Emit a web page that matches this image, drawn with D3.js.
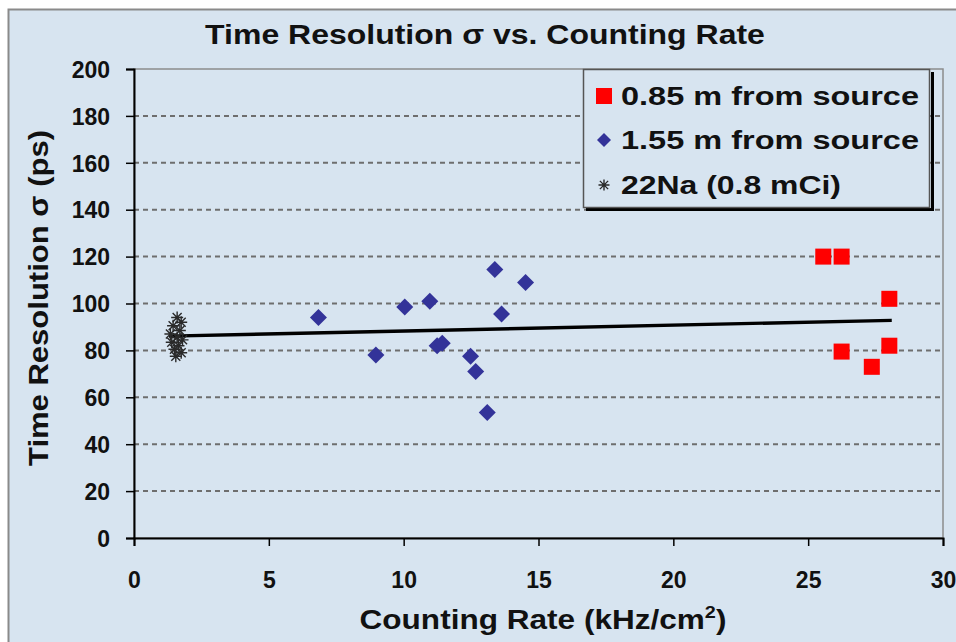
<!DOCTYPE html>
<html>
<head>
<meta charset="utf-8">
<script src="https://cdn.jsdelivr.net/npm/d3@7"></script>
<style>
  html, body { margin: 0; padding: 0; background: #ffffff; }
  svg { display: block; font-family: "Liberation Sans", Arial, sans-serif; font-weight: bold; }
</style>
</head>
<body>
<svg id="chart" width="956" height="642"></svg>
<script>
// Counting rate (kHz/cm^2) vs. time resolution sigma (ps)
const nearSeries = [ // 0.85 m from source
  { x: 25.56, y: 120 }, { x: 26.24, y: 120 }, { x: 28.01, y: 102 },
  { x: 26.24, y: 79.5 }, { x: 28.01, y: 82 }, { x: 27.36, y: 73 }
];
const farSeries = [ // 1.55 m from source
  { x: 6.84, y: 94 }, { x: 8.97, y: 78 }, { x: 10.04, y: 98.5 },
  { x: 10.97, y: 101 }, { x: 11.24, y: 82 }, { x: 11.43, y: 83 },
  { x: 12.48, y: 77.5 }, { x: 12.67, y: 71 }, { x: 13.10, y: 53.5 },
  { x: 13.38, y: 114.5 }, { x: 13.63, y: 95.5 }, { x: 14.52, y: 109 }
];
const sodiumSeries = [ // 22Na (0.8 mCi)
  { x: 1.6, y: 94 }, { x: 1.75, y: 92 }, { x: 1.45, y: 90.5 }, { x: 1.7, y: 88.5 },
  { x: 1.35, y: 87 }, { x: 1.6, y: 85.5 }, { x: 1.8, y: 84.5 }, { x: 1.4, y: 83.5 },
  { x: 1.65, y: 82 }, { x: 1.5, y: 80.5 }, { x: 1.75, y: 79 }, { x: 1.55, y: 77.5 }
];
const trendLine = [ { x: 1.3, y: 86.1 }, { x: 28.1, y: 92.8 } ];
const xTicks = [0, 5, 10, 15, 20, 25, 30];
const yTicks = [0, 20, 40, 60, 80, 100, 120, 140, 160, 180, 200];
const legendLabels = ["0.85 m from source", "1.55 m from source", "22Na (0.8 mCi)"];

const svg = d3.select("#chart");
const bg = "#d7e4f0";
const ink = "#111";
const plot = { left: 134, right: 943, top: 69, bottom: 538 };

const x = d3.scaleLinear().domain([0, 30]).range([plot.left, plot.right]);
const y = d3.scaleLinear().domain([0, 200]).range([plot.bottom, plot.top]);

// squeeze or stretch a text element horizontally to a given width around an anchor x
function fitWidth(sel, width, ax) {
  const w = sel.node().getBBox().width;
  const k = width / w;
  sel.attr("transform", `translate(${ax},0) scale(${k},1) translate(${-ax},0)`);
}

// chart frame
svg.append("rect").attr("x", 8.5).attr("y", 9.5).attr("width", 960).attr("height", 640)
  .attr("fill", bg).attr("stroke", "#8a8a8a").attr("stroke-width", 2);

// plot area
svg.append("rect").attr("x", plot.left).attr("y", plot.top)
  .attr("width", plot.right - plot.left).attr("height", plot.bottom - plot.top)
  .attr("fill", bg).attr("stroke", "#8c8c8c").attr("stroke-width", 1.5);

// dashed gridlines
svg.append("g").selectAll("line").data(yTicks.filter(t => t > 0 && t < 200)).join("line")
  .attr("x1", plot.left).attr("x2", plot.right)
  .attr("y1", d => y(d)).attr("y2", d => y(d))
  .attr("stroke", "#6e6e6e").attr("stroke-width", 2).attr("stroke-dasharray", "5,4");

// axes
const yAxis = d3.axisLeft(y).tickValues(yTicks).tickSize(8).tickPadding(16).tickFormat(d3.format("d"));
const xAxis = d3.axisBottom(x).tickValues(xTicks).tickSize(8).tickPadding(26).tickFormat(d3.format("d"));

const gy = svg.append("g").attr("transform", `translate(${plot.left},0)`).call(yAxis);
const gx = svg.append("g").attr("transform", `translate(0,${plot.bottom})`).call(xAxis);
[gy, gx].forEach(g => {
  g.select(".domain").attr("stroke", "#000").attr("stroke-width", 2);
  g.selectAll(".tick line").attr("stroke", "#000").attr("stroke-width", 1.5);
  g.selectAll(".tick text").attr("fill", ink).attr("font-size", 23)
    .attr("font-family", "'Liberation Sans', Arial, sans-serif").attr("font-weight", "bold");
});
gy.selectAll(".tick text").attr("dy", "0.36em");

// trend line
svg.append("path").datum(trendLine)
  .attr("d", d3.line().x(d => x(d.x)).y(d => y(d.y)))
  .attr("stroke", "#000").attr("stroke-width", 3.4).attr("fill", "none");

// markers
const asterisk = (g, s) => {
  g.append("path")
    .attr("d", `M${-s},0H${s}M0,${-s}V${s}M${-s*0.75},${-s*0.75}L${s*0.75},${s*0.75}M${-s*0.75},${s*0.75}L${s*0.75},${-s*0.75}`)
    .attr("stroke", "#2a2a2a").attr("stroke-width", 1.4).attr("fill", "none");
};
svg.append("g").selectAll("g").data(sodiumSeries).join("g")
  .attr("transform", d => `translate(${x(d.x)},${y(d.y)})`)
  .each(function () { asterisk(d3.select(this), 6); });

svg.append("g").selectAll("path").data(farSeries).join("path")
  .attr("transform", d => `translate(${x(d.x)},${y(d.y)})`)
  .attr("d", "M0,-8.5L8.5,0L0,8.5L-8.5,0Z")
  .attr("fill", "#333399");

svg.append("g").selectAll("rect").data(nearSeries).join("rect")
  .attr("x", d => x(d.x) - 8).attr("y", d => y(d.y) - 8)
  .attr("width", 16).attr("height", 16).attr("fill", "#ff0000");

// legend
const lg = svg.append("g");
lg.append("path").attr("d", "M586,209.5H932.5V72").attr("stroke", "#000").attr("stroke-width", 3).attr("fill", "none");
lg.append("rect").attr("x", 583.5).attr("y", 69.5).attr("width", 346).attr("height", 138)
  .attr("fill", bg).attr("stroke", "#555").attr("stroke-width", 1.5);
const rows = [96, 140, 185];
lg.append("rect").attr("x", 596).attr("y", rows[0] - 8).attr("width", 16).attr("height", 16).attr("fill", "#ff0000");
lg.append("path").attr("transform", `translate(604,${rows[1]})`).attr("d", "M0,-7L7,0L0,7L-7,0Z").attr("fill", "#333399");
asterisk(lg.append("g").attr("transform", `translate(604,${rows[2]})`), 5.5);
lg.selectAll("text").data(legendLabels).join("text")
  .attr("x", 621).attr("y", (d, i) => rows[i] + 9)
  .attr("font-size", 25).attr("fill", ink)
  .attr("textLength", (d, i) => i < 2 ? 298 : 220).attr("lengthAdjust", "spacingAndGlyphs")
  .text(d => d);

// titles
const title = svg.append("text").attr("x", 485).attr("y", 44).attr("text-anchor", "middle")
  .attr("font-size", 27).attr("fill", ink)
  .text("Time Resolution σ vs. Counting Rate");
fitWidth(title, 560, 485);

const xt = svg.append("text").attr("x", 543).attr("y", 629).attr("text-anchor", "middle")
  .attr("font-size", 27).attr("fill", ink);
xt.append("tspan").text("Counting Rate (kHz/cm");
xt.append("tspan").attr("font-size", 17).attr("dy", -11).text("2");
xt.append("tspan").attr("dy", 11).text(")");
fitWidth(xt, 367, 543);

svg.append("text").attr("transform", "translate(48,298) rotate(-90)").attr("text-anchor", "middle")
  .attr("font-size", 28).attr("fill", ink)
  .attr("textLength", 336).attr("lengthAdjust", "spacingAndGlyphs")
  .text("Time Resolution σ (ps)");
</script>
</body>
</html>
